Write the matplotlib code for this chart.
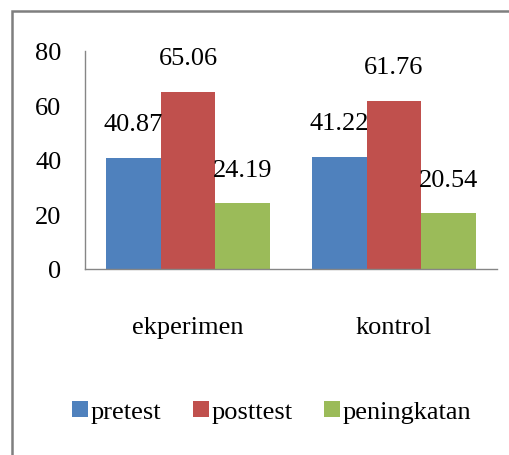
import matplotlib
matplotlib.use("Agg")
import matplotlib.pyplot as plt
import numpy as np
from matplotlib.patches import Rectangle

categories = ["ekperimen", "kontrol"]
series_names = ["pretest", "posttest", "peningkatan"]
pretest = [40.87, 41.22]
posttest = [65.06, 61.76]
peningkatan = [24.19, 20.54]
y_ticks = [0, 20, 40, 60, 80]

colors = ["#4F81BD", "#C0504D", "#9BBB59"]
font = "Liberation Serif"
fs = 19

W, H = 510, 456
fig = plt.figure(figsize=(W / 100, H / 100), dpi=100)
ax = fig.add_axes([85 / W, 1 - 270 / H, (497 - 85) / W, (270 - 52) / H])

x = np.arange(len(categories))
bw = 0.8 / 3
data = [pretest, posttest, peningkatan]
for i, (name, vals) in enumerate(zip(series_names, data)):
    pos = x + (i - 1) * bw
    bars = ax.bar(pos, vals, width=bw, color=colors[i], label=name, zorder=2)
    for b, v in zip(bars, vals):
        ax.annotate(f"{v:.2f}", (b.get_x() + b.get_width() / 2, v),
                    xytext=(0, 16), textcoords="offset points",
                    ha="center", va="bottom", fontsize=fs, family=font)

ax.set_xlim(-0.5, len(categories) - 0.5)
ax.set_ylim(0, 80)
ax.set_yticks(y_ticks)
ax.set_yticklabels([str(t) for t in y_ticks], fontsize=fs, family=font)
ax.set_xticks(x)
ax.set_xticklabels(categories, fontsize=fs, family=font)
ax.tick_params(axis="y", length=0, pad=17)
ax.tick_params(axis="x", length=0, pad=34)
for s in ["top", "right"]:
    ax.spines[s].set_visible(False)
for s in ["left", "bottom"]:
    ax.spines[s].set_color("#868686")
    ax.spines[s].set_linewidth(1)

leg = fig.legend(loc="center", bbox_to_anchor=(272 / W, 1 - 413 / H), ncol=3,
                 frameon=False, prop={"family": font, "size": fs},
                 handlelength=0.6, handleheight=0.6, handletextpad=0.1,
                 columnspacing=1.2)

border = Rectangle((12 / W, -0.5), 2.0, 1 - 12 / H + 0.5, transform=fig.transFigure,
                   fill=False, edgecolor="#7f7f7f", linewidth=1.8, clip_on=False)
fig.patches.append(border)

fig.savefig("out.png", dpi=100)
